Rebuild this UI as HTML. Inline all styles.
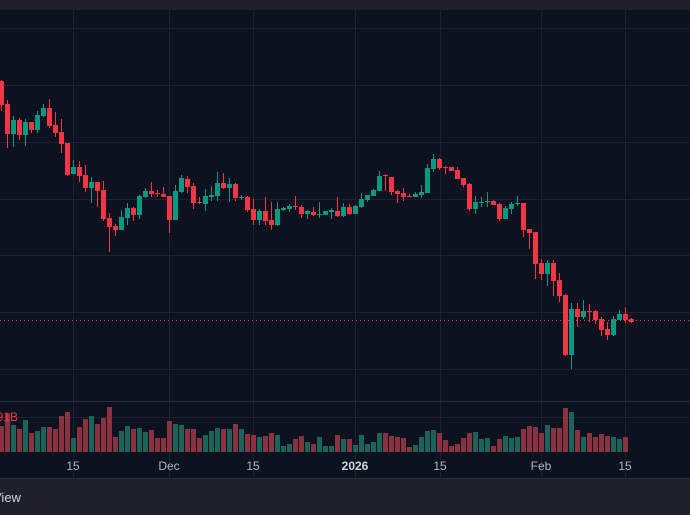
<!DOCTYPE html>
<html><head><meta charset="utf-8"><style>
html,body{margin:0;padding:0;background:#0d1220;width:690px;height:515px;overflow:hidden}
svg{display:block}
text{font-family:"Liberation Sans",sans-serif}
</style></head><body>
<svg id="s" width="690" height="515" xmlns="http://www.w3.org/2000/svg">
<rect x="0" y="0" width="690" height="515" fill="#0d1220"/>
<rect x="0" y="0" width="690" height="10" fill="#1e212b"/>
<g stroke="#1c2230" stroke-width="1">
<line x1="0" x2="690" y1="28.5" y2="28.5"/><line x1="0" x2="690" y1="85.5" y2="85.5"/>
<line x1="0" x2="690" y1="142.5" y2="142.5"/><line x1="0" x2="690" y1="199.5" y2="199.5"/>
<line x1="0" x2="690" y1="255.5" y2="255.5"/><line x1="0" x2="690" y1="312.5" y2="312.5"/>
<line x1="0" x2="690" y1="369.5" y2="369.5"/><line x1="0" x2="690" y1="417.5" y2="417.5"/>
<line y1="10" y2="478" x1="73.5" x2="73.5"/><line y1="10" y2="478" x1="169.5" x2="169.5"/>
<line y1="10" y2="478" x1="253.5" x2="253.5"/><line y1="10" y2="478" x1="355.5" x2="355.5"/>
<line y1="10" y2="478" x1="440.5" x2="440.5"/><line y1="10" y2="478" x1="541.5" x2="541.5"/>
<line y1="10" y2="478" x1="625.5" x2="625.5"/>
</g>
<line x1="0" x2="690" y1="401.5" y2="401.5" stroke="#2a2e39" stroke-width="1"/>
<g id="vol"></g>
<g id="cdl"></g>
<line x1="0" x2="690" y1="320.5" y2="320.5" stroke="#f23645" stroke-width="1" stroke-dasharray="1,3"/>
<text x="18" y="421" text-anchor="end" fill="#f23645" font-size="12">2.91B</text>
<g fill="#b2b5be" font-size="12" text-anchor="middle">
<text x="73" y="470">15</text><text x="169" y="470">Dec</text><text x="253" y="470">15</text>
<text x="355" y="470" font-weight="bold" fill="#d1d4dc">2026</text><text x="440" y="470">15</text>
<text x="541" y="470">Feb</text><text x="625" y="470">15</text>
</g>
<rect x="0" y="478" width="690" height="37" fill="#1e212b"/>
<line x1="0" x2="690" y1="478.5" y2="478.5" stroke="#2a2e39"/>
<text x="-7" y="502" fill="#d1d4dc" font-size="13">View</text>
</svg>
<script>
var C=[
['r',81,105,80,111],['r',104,134,100,148],['g',120,134,116,147],['r',120,135,118,140],['g',122,135,119,146],
['r',122,130,122,133],['g',115,130,111,133],['g',108,116,104,117],['r',108,126,99,128],['r',125,133,112,137],
['r',132,144,119,153],['r',143,175,143,176],['g',167,174,160,174],['r',167,176,161,182],['r',175,188,165,192],
['g',182,188,177,203],['r',182,191,182,207],['r',190,219,181,221],['r',218,227,213,252],['r',226,230,224,236],
['g',217,230,210,230],['g',208,218,203,225],['r',208,215,207,221],['g',196,215,195,219],['g',191,197,188,198],
['r',191,194,182,197],['r',193,194,190,197],['r',194,197,187,197],['r',196,220,196,233],['g',191,220,185,220],
['g',178,192,175,193],['r',179,187,176,193],['r',186,203,183,209],['r',202,203,197,204],['g',196,204,189,211],
['g',195,197,186,201],['g',183,196,172,201],['r',183,188,173,189],['g',184,188,178,202],['r',184,198,183,201],
['g',197,198,195,200],['r',197,210,196,212],['r',209,220,199,225],['g',211,220,209,225],['r',211,221,197,225],
['r',220,225,202,230],['g',209,225,202,226],['g',208,210,207,211],['g',206,209,204,212],['r',206,207,196,210],
['r',207,214,205,218],['g',211,214,210,219],['r',212,215,207,216],['g',214,215,202,218],['g',211,215,211,215],
['g',210,212,208,219],['r',211,216,197,217],['g',207,216,203,217],['r',207,214,204,215],['g',206,214,205,214],
['g',199,207,193,208],['g',195,200,195,202],['g',190,196,189,196],['g',176,191,171,191],['r',175,176,174,191],
['r',177,192,177,195],['r',191,194,190,203],['r',193,197,188,201],['r',196,197,194,197],['g',194,197,192,197],
['g',192,195,185,198],['g',168,193,164,193],['g',159,169,154,172],['r',159,168,158,170],['r',167,168,166,174],
['r',167,171,167,171],['r',170,179,167,179],['r',178,185,178,187],['r',184,209,183,211],['g',202,209,196,214],
['g',202,203,197,207],['g',201,202,192,207],['r',201,205,200,205],['r',204,219,203,221],['g',208,219,206,219],
['g',204,209,202,214],['g',203,204,196,206],['r',203,230,203,237],['r',229,233,229,249],['r',232,264,232,279],
['r',263,274,259,280],['g',263,274,260,286],['r',263,281,260,296],['r',280,296,273,302],['r',295,355,294,356],
['g',309,355,303,369],['r',309,317,303,327],['g',311,317,300,319],['r',311,312,304,322],['r',311,320,310,324],
['r',319,330,317,336],['r',329,335,322,340],['g',319,335,316,336],['g',314,320,310,320],['r',314,320,307,323],
['r',319,322,318,323]];
var V=[138,100,135,147,120,159,153,141,141,147,108,96,174,141,117,108,132,114,81,171,153,138,147,144,156,150,174,174,123,132,135,147,147,174,165,153,144,147,147,132,147,162,165,171,168,159,165,198,192,177,168,186,192,171,198,198,165,177,177,195,165,192,186,159,159,168,171,174,201,195,171,153,150,159,180,198,192,174,159,156,177,174,198,177,168,174,171,147,138,141,159,135,144,144,84,96,150,171,159,171,162,168,171,177,171];
var VC="rrgrgrggrrrrgrrgrrrrgg rggrrrggrrrgggrgrgrrgrrgggrrgrggggrggrrgggggrrrrggggrrrrrgggrrggg rrrgrrrgrgrrrrrgg r".replace(/ /g,'');
var ns="http://www.w3.org/2000/svg",cg=document.getElementById('cdl'),vg=document.getElementById('vol');
function el(t,a,p){var e=document.createElementNS(ns,t);for(var k in a)e.setAttribute(k,a[k]);p.appendChild(e);}
C.forEach(function(c,i){var x=1.5+6*i,col=c[0]=='r'?'#f23645':'#089981';
el('rect',{x:x-0.5,y:c[3],width:1,height:Math.max(1,c[4]-c[3]),fill:col},cg);
el('rect',{x:x-2.5,y:c[1],width:5,height:Math.max(1,c[2]-c[1]),fill:col},cg);});
V.forEach(function(v,i){var x=1.5+6*i,t=380+v/3,cc=C[i][0];
el('rect',{x:x-2.5,y:t,width:5,height:452-t,fill:cc=='r'?'#8a3240':'#1b6459'},vg);});
</script>
</body></html>
